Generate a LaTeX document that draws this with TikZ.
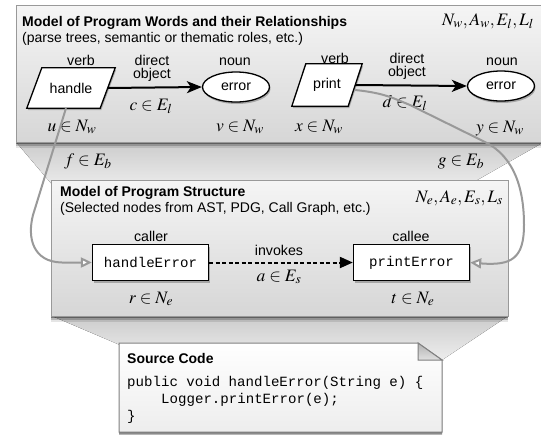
\documentclass[tikz,border=0pt]{standalone}
\usepackage{mathptmx}
\usepackage[no-math]{fontspec}
\setmainfont{Liberation Serif}
\setsansfont{Liberation Sans}
\setmonofont{Liberation Mono}
\DeclareMathSizes{17.5}{17.5}{13.5}{10}
\usetikzlibrary{shapes.geometric, arrows.meta, shadows}

\pgfdeclarelayer{back}
\pgfdeclarelayer{shapes}
\pgfsetlayers{back,shapes,main}

\tikzset{
  sanslbl/.style={font=\sffamily\fontsize{14.2}{13}\selectfont, inner sep=0pt, align=center},
  titlelbl/.style={font=\sffamily\bfseries\fontsize{14}{16}\selectfont, inner sep=0pt, anchor=base west},
  sublbl/.style={font=\sffamily\fontsize{14}{16}\selectfont, inner sep=0pt, anchor=base west},
  mathlbl/.style={font=\fontsize{17.5}{19}\selectfont, inner sep=0pt, anchor=base},
  codetxt/.style={font=\ttfamily\fontsize{14.1}{16}\selectfont, inner sep=0pt, anchor=base west},
  panelshadow/.style={
    drop shadow={shadow xshift=0pt, shadow yshift=-1.5pt, opacity=.35, fill=black},
    drop shadow={shadow xshift=0pt, shadow yshift=-3.5pt, opacity=.2, fill=black},
    drop shadow={shadow xshift=0pt, shadow yshift=-5.5pt, opacity=.1, fill=black}},
  nodeshadow/.style={drop shadow={shadow xshift=1pt, shadow yshift=-2pt, opacity=.25, fill=black}},
  panel/.style={draw=black!40, line width=0.8pt, top color=black!4, bottom color=black!16},
  bridgefill/.style={top color=black!20, bottom color=black!7},
  verbtext/.style={rectangle, inner sep=0pt, font=\sffamily\fontsize{14.2}{16}\selectfont},
  paragram/.style={draw, line width=1.3pt, fill=white, nodeshadow},
  nounshape/.style={ellipse, draw, line width=1.3pt, fill=white, nodeshadow,
    minimum width=67pt, minimum height=30pt, inner sep=0pt,
    font=\sffamily\fontsize{14.2}{16}\selectfont},
  progbox/.style={rectangle, draw, line width=1.3pt, fill=white, nodeshadow,
    minimum width=116pt, minimum height=36pt, inner sep=0pt,
    font=\ttfamily\fontsize{14.1}{16}\selectfont},
  wordlink/.style={line width=2pt, -{Stealth[length=15pt, width=12pt, inset=4pt]}},
  calllink/.style={line width=2pt, dash pattern=on 4pt off 2.5pt, -{Triangle[length=13pt, width=11pt]}},
  bridge/.style={draw=black!40, line width=2pt, -{Triangle[open, length=11pt, width=10pt, fill=white]}},
}

\begin{document}
\begin{tikzpicture}[x=1pt, y=-1pt]
\useasboundingbox (0,0) rectangle (541,434);

\begin{pgfonlayer}{back}
\fill[white] (0,0) rectangle (541,434);
% connecting wedges between the layers
\fill[bridgefill] (16,142) -- (544,142) -- (472,183) -- (55,188) -- cycle;
\fill[bridgefill] (52,316) -- (508,316) -- (442,360) -- (120,345) -- cycle;
% layer panels
\path[panel, panelshadow] (16,5) rectangle (545,142);
\path[panel, panelshadow] (51,180) rectangle (508,316);
% source code sheet with folded corner
\path[draw=black!50, line width=1pt, top color=white, bottom color=black!7, panelshadow]
  (119,343) -- (418,343) -- (442,360) -- (442,432) -- (119,432) -- cycle;
\path[draw=black!50, line width=1pt, top color=black!30, bottom color=black!12]
  (418,343) -- (442,360) -- (418,360) -- cycle;
\end{pgfonlayer}

% ---- program words ----
\node[titlelbl] (wtitle) at (22,26) {Model of Program Words and their Relationships};
\node[sublbl] (wsub) at (22,42) {(parse trees, semantic or thematic roles, etc.)};
\node[mathlbl, anchor=base east] (wsets) at (534,25) {$N_w, A_w, E_l, L_l$};

\node[verbtext, minimum width=73pt, minimum height=40pt] (handle) at (71,88) {handle};
\node[verbtext, minimum width=56pt, minimum height=42pt] (print) at (327,85) {print};
\begin{pgfonlayer}{shapes}
\path[paragram] ([xshift=7.5pt]handle.north west) -- ([xshift=7.5pt]handle.north east)
  -- ([xshift=-7.5pt]handle.south east) -- ([xshift=-7.5pt]handle.south west) -- cycle;
\path[paragram] ([xshift=7pt]print.north west) -- ([xshift=7pt]print.north east)
  -- ([xshift=-7pt]print.south east) -- ([xshift=-7pt]print.south west) -- cycle;
\end{pgfonlayer}
\node[nounshape] (err1) at (236,87) {error};
\node[nounshape] (err2) at (501,86) {error};

\node[sanslbl, anchor=base] (verb1) at (81,65) {verb};
\node[sanslbl, anchor=base] (noun1) at (235,65) {noun};
\node[sanslbl, anchor=base] (verb2) at (335,63) {verb};
\node[sanslbl, anchor=base] (noun2) at (502,65) {noun};
\node[sanslbl, anchor=north] (dobj1) at (152,55) {direct\\object};
\node[sanslbl, anchor=north] (dobj2) at (407,53) {direct\\object};

\node[mathlbl] (cl) at (151,110) {$c\in E_l$};
\node[mathlbl] (dl) at (405,107) {$d\in E_l$};
\node[mathlbl] (ul) at (72,131) {$u\in N_w$};
\node[mathlbl] (vl) at (240,131) {$v\in N_w$};
\node[mathlbl] (xl) at (319,131) {$x\in N_w$};
\node[mathlbl] (yl) at (500,132) {$y\in N_w$};

\draw[wordlink] (handle.east) -- (err1.west);
\draw[wordlink] (print.east) -- (err2.west);

% ---- program structure ----
\node[titlelbl] (stitle) at (60,196) {Model of Program Structure};
\node[sublbl] (ssub) at (60,212) {(Selected nodes from AST, PDG, Call Graph, etc.)};
\node[mathlbl, anchor=base east] (ssets) at (503,202) {$N_e, A_e, E_s, L_s$};

\node[progbox] (handleError) at (150.5,262.5) {handleError};
\node[progbox] (printError) at (411.5,262.5) {printError};

\node[sanslbl, anchor=base] (caller) at (151,241) {caller};
\node[sanslbl, anchor=base] (callee) at (411,241) {callee};
\node[sanslbl, anchor=base] (invokes) at (279,255) {invokes};
\node[mathlbl] (al) at (279,281) {$a\in E_s$};
\node[mathlbl] (rl) at (151,303) {$r\in N_e$};
\node[mathlbl] (tl) at (413,303) {$t\in N_e$};

\draw[calllink] (handleError.east) -- (printError.west);

% ---- links between words and program elements ----
\node[mathlbl] (fl) at (88,165) {$f\in E_b$};
\node[mathlbl] (gl) at (461,165) {$g\in E_b$};

\draw[bridge] ([xshift=-5pt]handle.south) -- (33,215)
  .. controls (27,238) and (33,262) .. (62,262.5) -- (handleError.west);
\draw[bridge] ([yshift=-5pt]print.east) .. controls (385,93) and (395,99) .. (410,105)
  -- (485,142) .. controls (515,157) and (524,190) .. (524,225)
  .. controls (524,258) and (512,266) .. (printError.east);

% ---- source code ----
\node[titlelbl] (ctitle) at (127,363) {Source Code};
\node[codetxt] (code1) at (127,386) {public void handleError(String e) \{};
\node[codetxt] (code2) at (161,403) {Logger.printError(e);};
\node[codetxt] (code3) at (127,420) {\}};
\end{tikzpicture}
\end{document}
